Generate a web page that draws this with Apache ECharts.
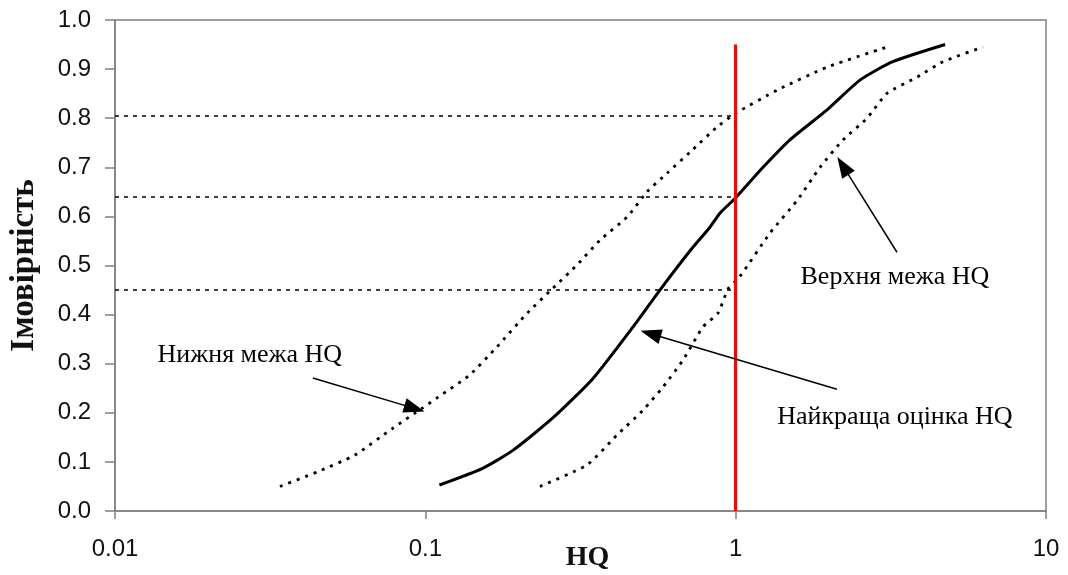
<!DOCTYPE html>
<html>
<head>
<meta charset="utf-8">
<script src="https://cdn.jsdelivr.net/npm/echarts@6/dist/echarts.min.js"></script>
<style>
  html, body { margin: 0; padding: 0; background: #fff; }
  #chart { width: 1068px; height: 575px; }
</style>
</head>
<body>
<div id="chart"></div>
<script>
// Cumulative probability curves of the hazard quotient (HQ)
const bestEstimate = [
  [0.111, 0.053], [0.153, 0.087], [0.192, 0.124], [0.258, 0.19], [0.347, 0.27],
  [0.467, 0.375], [0.570, 0.45], [0.713, 0.53], [0.826, 0.578], [0.891, 0.607],
  [1.0, 0.638], [1.225, 0.70], [1.496, 0.756], [1.97, 0.817], [2.52, 0.878],
  [3.21, 0.915], [4.73, 0.95]
];
const lowerBound = [
  [0.034, 0.05], [0.045, 0.08], [0.0593, 0.114], [0.0787, 0.169], [0.098, 0.21],
  [0.11, 0.232], [0.139, 0.277], [0.17, 0.334], [0.213, 0.403], [0.258, 0.454],
  [0.308, 0.501], [0.366, 0.552], [0.447, 0.599], [0.518, 0.65], [0.601, 0.688],
  [0.713, 0.731], [0.871, 0.782], [1.0, 0.81], [1.36, 0.857], [1.97, 0.904],
  [3.15, 0.947]
];
const upperBound = [
  [0.234, 0.05], [0.332, 0.094], [0.415, 0.155], [0.504, 0.206], [0.584, 0.253],
  [0.676, 0.307], [0.785, 0.375], [0.877, 0.403], [0.945, 0.452], [1.03, 0.477],
  [1.29, 0.566], [1.58, 0.633], [1.87, 0.70], [2.22, 0.756], [2.65, 0.80],
  [3.08, 0.851], [3.85, 0.884], [4.66, 0.915], [6.27, 0.945]
];

// Probability levels read at HQ = 1
const levelsAtOne = [0.805, 0.64, 0.45];
const thresholdHQ = 1;
const thresholdTop = 0.95;

const xTickLabels = ['0.01', '0.1', '1', '10'];
const yTickLabels = ['0.0', '0.1', '0.2', '0.3', '0.4', '0.5', '0.6', '0.7', '0.8', '0.9', '1.0'];

// Callout texts and the arrows pointing at each curve
const calloutTexts = [
  { text: 'Нижня межа HQ', at: [0.0272, 0.318] },
  { text: 'Верхня межа HQ', at: [3.26, 0.477] },
  { text: 'Найкраща оцінка HQ', at: [3.26, 0.191] }
];
const calloutArrows = [
  { from: [0.0434, 0.271], to: [0.0923, 0.209] },
  { from: [3.31, 0.527], to: [2.216, 0.703] },
  { from: [2.12, 0.248], to: [0.532, 0.361] }
];

const axisGray = '#808080';
const chart = echarts.init(document.getElementById('chart'), null, { renderer: 'canvas' });

const guideLines = levelsAtOne.map(v => [
  { coord: [0.01, v], symbol: 'none' },
  { coord: [thresholdHQ, v], symbol: 'none' }
]);
const thresholdLine = [[
  { coord: [thresholdHQ, 0], symbol: 'none' },
  { coord: [thresholdHQ, thresholdTop], symbol: 'none' }
]];
const arrowLines = calloutArrows.map(a => [
  { coord: a.from, symbol: 'none' },
  { coord: a.to, symbol: 'triangle', symbolSize: [15, 21] }
]);

chart.setOption({
  animation: false,
  backgroundColor: '#ffffff',
  grid: {
    left: 115, right: 22, top: 20, bottom: 64,
    outerBoundsMode: 'none', containLabel: false,
    show: true, borderColor: axisGray, borderWidth: 1.5
  },
  xAxis: {
    type: 'log', logBase: 10, min: 0.01, max: 10,
    name: 'HQ', nameLocation: 'middle', nameGap: 33, nameMoveOverlap: false,
    nameTextStyle: { fontFamily: 'Liberation Serif', fontWeight: 'bold', fontSize: 28, color: '#111', padding: [0, 0, 0, 14] },
    axisLine: { lineStyle: { color: axisGray, width: 1.5 } },
    axisTick: { show: true, length: 8, lineStyle: { color: axisGray, width: 1.5 } },
    minorTick: { show: false },
    splitLine: { show: false },
    axisLabel: {
      margin: 26, fontFamily: 'Liberation Sans', fontSize: 24, color: '#111',
      formatter: (v, i) => xTickLabels[i] ?? ''
    }
  },
  yAxis: {
    type: 'value', min: 0, max: 1, interval: 0.1,
    name: 'Імовірність', nameLocation: 'middle', nameGap: 74, nameMoveOverlap: false,
    nameTextStyle: { fontFamily: 'Liberation Serif', fontWeight: 'bold', fontSize: 33, color: '#111' },
    axisLine: { show: true, lineStyle: { color: axisGray, width: 1.5 } },
    axisTick: { show: true, length: 10, lineStyle: { color: axisGray, width: 1.5 } },
    splitLine: { show: false },
    axisLabel: {
      margin: 24, fontFamily: 'Liberation Sans', fontSize: 24, color: '#111',
      formatter: (v, i) => yTickLabels[i] ?? ''
    }
  },
  series: [
    {
      name: 'Найкраща оцінка HQ', type: 'line', data: bestEstimate,
      showSymbol: false, smooth: 0.2,
      lineStyle: { color: '#000', width: 3 },
      z: 4
    },
    {
      name: 'Нижня межа HQ', type: 'line', data: lowerBound,
      showSymbol: false, smooth: 0.2,
      lineStyle: { color: '#000', width: 2.8, type: [3, 6] },
      z: 4
    },
    {
      name: 'Верхня межа HQ', type: 'line', data: upperBound,
      showSymbol: false, smooth: 0.2,
      lineStyle: { color: '#000', width: 2.8, type: [3, 6] },
      z: 4
    },
    {
      type: 'line', data: [], silent: true,
      markLine: {
        silent: true, animation: false, symbol: 'none',
        label: { show: false },
        lineStyle: { color: '#000', width: 1.5, type: [4, 5] },
        data: guideLines
      },
      z: 3
    },
    {
      // HQ = 1 threshold
      type: 'line', data: [], silent: true,
      markLine: {
        silent: true, animation: false, symbol: 'none',
        label: { show: false },
        lineStyle: { color: '#ff0000', width: 3, type: 'solid' },
        data: thresholdLine
      },
      z: 5
    },
    {
      // callout arrows
      type: 'line', data: [], silent: true,
      markLine: {
        silent: true, animation: false,
        label: { show: false },
        lineStyle: { color: '#000', width: 1.5, type: 'solid' },
        itemStyle: { color: '#000' },
        data: arrowLines
      },
      z: 6
    },
    {
      // callout texts
      type: 'scatter', silent: true, symbolSize: 0,
      itemStyle: { opacity: 1 },
      data: calloutTexts.map(c => ({ name: c.text, value: c.at })),
      label: {
        show: true, position: 'inside', formatter: '{b}',
        fontFamily: 'Liberation Serif', fontSize: 26, color: '#000',
        opacity: 1, textBorderWidth: 0
      },
      z: 7
    }
  ]
});
</script>
</body>
</html>
